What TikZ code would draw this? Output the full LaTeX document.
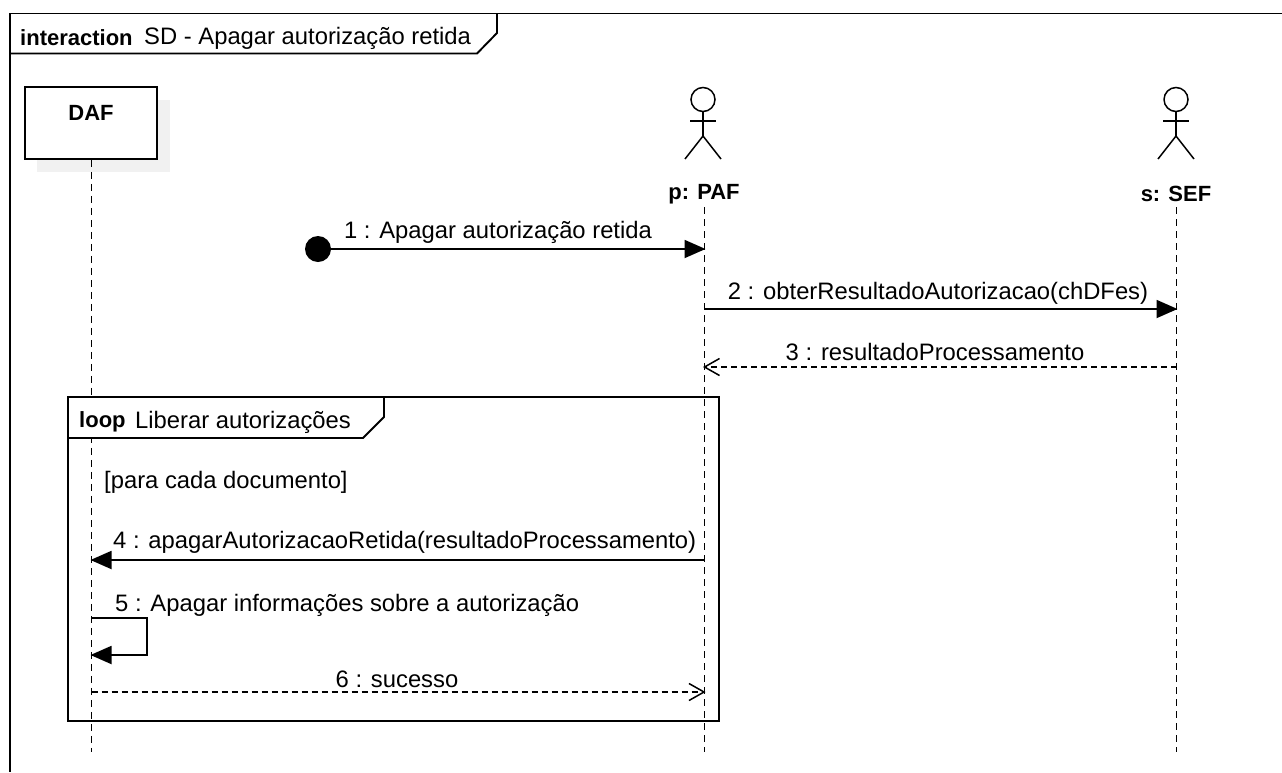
\documentclass[tikz,border=0pt]{standalone}
\usepackage{fontspec}
\setmainfont{Liberation Sans}
\usetikzlibrary{arrows.meta}
\definecolor{shadowgray}{HTML}{F1F1F1}
\tikzset{
    frameline/.style={line width=1.9pt},
    lifeline/.style={line width=1.7pt,dash pattern=on 7pt off 5pt},
    sync/.style={line width=1.9pt,-{Triangle[length=21pt,width=18pt]}},
    reply/.style={line width=1.7pt,dash pattern=on 6pt off 4pt,-{Straight Barb[length=15pt,width=17pt,line width=1.5pt]}},
    actorline/.style={line width=1.5pt},
    txt/.style={inner sep=0pt,font=\fontsize{23.8}{28}\selectfont},
    boldtxt/.style={txt,font=\fontsize{22}{26}\selectfont\bfseries}
}
\begin{document}
\begin{tikzpicture}[x=1pt,y=-1pt]
            \useasboundingbox (0,0) rectangle (1282,772);

            % outer frame
            \draw[frameline] (1282,13.5) -- (10,13.5) -- (10,772);
            \draw[frameline] (10,53.5) -- (477,53.5) -- (497,33) -- (497,13.5);
            \node[boldtxt,anchor=west] (frametag) at (20,38) {interaction};
            \node[txt,anchor=west] (frametitle) at (144,38) {SD - Apagar autorização retida};

            % lifelines
            \fill[shadowgray] (37,100) rectangle (170,172);
            \node[draw,fill=white,frameline,minimum width=132pt,minimum height=72pt] (daf) at (91,123) {};
            \node[boldtxt] (daflabel) at (91,113) {DAF};
            \node[boldtxt] (paf) at (704,194) {p: PAF};
            \node[boldtxt] (sef) at (1176,194) {s: SEF};
            \coordinate (dafend) at (91.5,752);
            \coordinate (paftop) at (704.5,207);
            \coordinate (pafend) at (704.5,752);
            \coordinate (seftop) at (1176.5,207);
            \coordinate (sefend) at (1176.5,752);
            \draw[lifeline] (daf.south -| dafend) -- (dafend);
            \draw[lifeline] (paftop) -- (pafend);
            \draw[lifeline] (seftop) -- (sefend);

            % actors
            \draw[actorline] (703,99.5) circle (12pt);
            \draw[actorline] (703,111.5) -- (703,136);
            \draw[actorline] (690,121) -- (716,121);
            \draw[actorline] (685,159) -- (703,136) -- (721,159);
            \draw[actorline] (1176,99.5) circle (12pt);
            \draw[actorline] (1176,111.5) -- (1176,136);
            \draw[actorline] (1163,121) -- (1189,121);
            \draw[actorline] (1158,159) -- (1176,136) -- (1194,159);

            % messages
            \node[circle,fill=black,inner sep=0pt,minimum size=26pt] (start) at (318,249) {};
            \coordinate (m1e) at (705.5,249);
            \coordinate (m2s) at (704.5,309);
            \coordinate (m2e) at (1177.5,309);
            \coordinate (m3s) at (1176.5,367);
            \coordinate (m3e) at (703,367);
            \coordinate (m4s) at (704.5,560);
            \coordinate (m4e) at (90.5,560);
            \coordinate (m5s) at (91.5,618);
            \coordinate (m5e) at (90.5,655);
            \coordinate (m6s) at (91.5,692);
            \coordinate (m6e) at (705.5,692);
            \draw[sync] (start) -- (m1e);
            \draw[sync] (m2s) -- (m2e);
            \draw[reply] (m3s) -- (m3e);
            \draw[sync] (m4s) -- (m4e);
            \draw[sync] (m5s) -- (147,618) -- (147,655) -- (m5e);
            \draw[reply] (m6s) -- (m6e);

            \node[txt] (m1) at (498,232) {1 : Apagar autorização retida};
            \node[txt] (m2) at (938,293) {2 : obterResultadoAutorizacao(chDFes)};
            \node[txt] (m3) at (935,352) {3 : resultadoProcessamento};
            \node[txt,anchor=west] (m4) at (113,542) {4 : apagarAutorizacaoRetida(resultadoProcessamento)};
            \node[txt,anchor=west] (m5) at (115,605) {5 : Apagar informações sobre a autorização};
            \node[txt] (m6) at (397,679) {6 : sucesso};

            % loop fragment
            \draw[frameline] (68,397) rectangle (719,721);
            \draw[frameline,fill=white] (68,397) -- (68,438) -- (363,438) -- (384,417) -- (384,397) -- cycle;
            \node[boldtxt,anchor=west] (looptag) at (79,422) {loop};
            \node[txt,anchor=west] (looptitle) at (135,422) {Liberar autorizações};
            \node[txt,anchor=west] (guard) at (104,482) {[para cada documento]};
        \end{tikzpicture}
\end{document}
